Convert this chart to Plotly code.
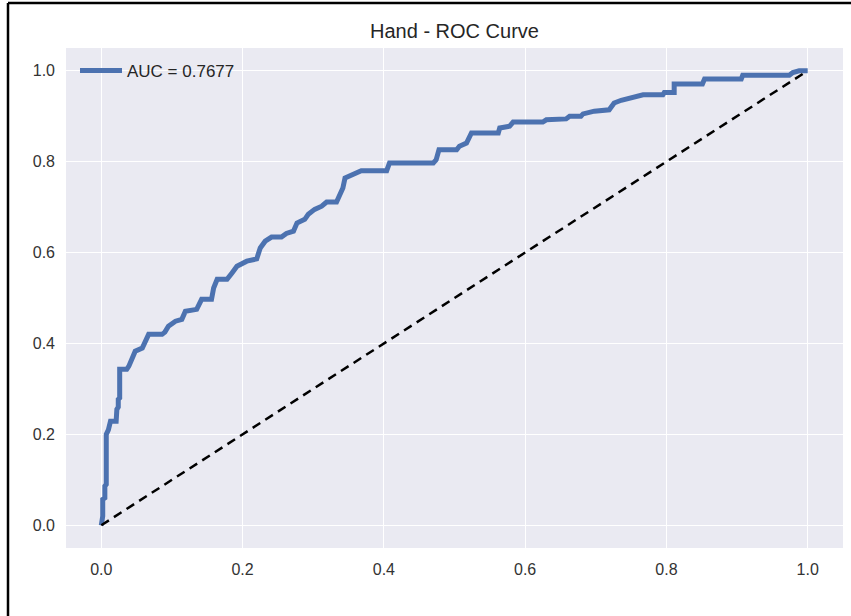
import plotly.graph_objects as go

fpr = [0.000, 0.002, 0.002, 0.005, 0.005, 0.007, 0.007, 0.010, 0.013, 0.021, 0.022, 0.024, 0.024,
       0.026, 0.026, 0.036, 0.039, 0.043, 0.048, 0.058, 0.062, 0.067, 0.086, 0.090, 0.095, 0.105,
       0.114, 0.119, 0.135, 0.142, 0.156, 0.159, 0.164, 0.178, 0.185, 0.192, 0.206, 0.220, 0.225,
       0.232, 0.241, 0.255, 0.262, 0.272, 0.277, 0.288, 0.293, 0.302, 0.312, 0.319, 0.333, 0.338,
       0.342, 0.345, 0.352, 0.359, 0.368, 0.404, 0.408, 0.470, 0.474, 0.478, 0.503, 0.507, 0.517,
       0.524, 0.562, 0.564, 0.578, 0.583, 0.625, 0.630, 0.658, 0.663, 0.679, 0.682, 0.698, 0.719,
       0.726, 0.736, 0.752, 0.767, 0.795, 0.797, 0.811, 0.811, 0.851, 0.854, 0.906, 0.908, 0.974,
       0.979, 0.988, 1.000]
tpr = [0.000, 0.020, 0.057, 0.060, 0.086, 0.090, 0.200, 0.210, 0.229, 0.229, 0.255, 0.260, 0.277,
       0.280, 0.343, 0.343, 0.350, 0.365, 0.383, 0.390, 0.402, 0.420, 0.420, 0.425, 0.438, 0.449,
       0.453, 0.471, 0.475, 0.497, 0.497, 0.522, 0.541, 0.541, 0.555, 0.570, 0.581, 0.586, 0.610,
       0.625, 0.634, 0.634, 0.642, 0.647, 0.665, 0.673, 0.684, 0.695, 0.702, 0.711, 0.711, 0.731,
       0.742, 0.764, 0.769, 0.771, 0.780, 0.780, 0.797, 0.797, 0.804, 0.826, 0.826, 0.834, 0.841,
       0.863, 0.863, 0.874, 0.878, 0.887, 0.887, 0.892, 0.894, 0.900, 0.900, 0.905, 0.911, 0.914,
       0.929, 0.935, 0.940, 0.947, 0.947, 0.952, 0.952, 0.971, 0.971, 0.982, 0.982, 0.990, 0.990,
       0.996, 1.000, 1.000]
diag = [0, 1]
auc_label = "AUC = 0.7677"
title = "Hand - ROC Curve"
ticks = [0.0, 0.2, 0.4, 0.6, 0.8, 1.0]
tick_text = ["0.0", "0.2", "0.4", "0.6", "0.8", "1.0"]

W, H = 851, 616
ML, MR, MT, MB = 66, 8, 48, 68
PW, PH = W - ML - MR, H - MT - MB

fig = go.Figure()
fig.add_trace(go.Scatter(x=fpr, y=tpr, mode="lines", name=auc_label,
                         line=dict(color="#4C72B0", width=5)))
fig.add_trace(go.Scatter(x=diag, y=diag, mode="lines", showlegend=False,
                         line=dict(color="black", width=2.5, dash="9px,6px")))

font = "Liberation Sans, Arial, sans-serif"
axis_common = dict(range=[-0.05, 1.05], tickvals=ticks, ticktext=tick_text,
                   showgrid=True, gridcolor="white", gridwidth=1.3, zeroline=False,
                   showline=False, ticks="", ticklabelstandoff=10,
                   tickfont=dict(family=font, size=16, color="#333333"))
fig.update_xaxes(**axis_common)
fig.update_yaxes(**axis_common)

def px_to_paper_x(px):
    return (px - ML) / PW

def px_to_paper_y(py):
    return (H - MB - py) / PH

fig.add_shape(type="line", xref="paper", yref="paper",
              x0=px_to_paper_x(8), x1=px_to_paper_x(8),
              y0=px_to_paper_y(3), y1=px_to_paper_y(640),
              line=dict(color="black", width=2.5))
fig.add_shape(type="line", xref="paper", yref="paper",
              x0=px_to_paper_x(8), x1=px_to_paper_x(900),
              y0=px_to_paper_y(3), y1=px_to_paper_y(3),
              line=dict(color="black", width=2.5))

fig.update_layout(
    width=W, height=H,
    margin=dict(l=ML, r=MR, t=MT, b=MB),
    paper_bgcolor="white", plot_bgcolor="#EAEAF2",
    title=dict(text=title, x=(ML + PW / 2) / W, xanchor="center",
               y=1 - 31 / H, yanchor="middle",
               font=dict(family=font, size=20, color="#262626")),
    legend=dict(x=px_to_paper_x(75), y=0.99, xanchor="left", yanchor="top",
                itemwidth=42,
                bgcolor="rgba(0,0,0,0)", font=dict(family=font, size=17, color="#262626")),
    font=dict(family=font),
)

fig.write_html("out.html")
